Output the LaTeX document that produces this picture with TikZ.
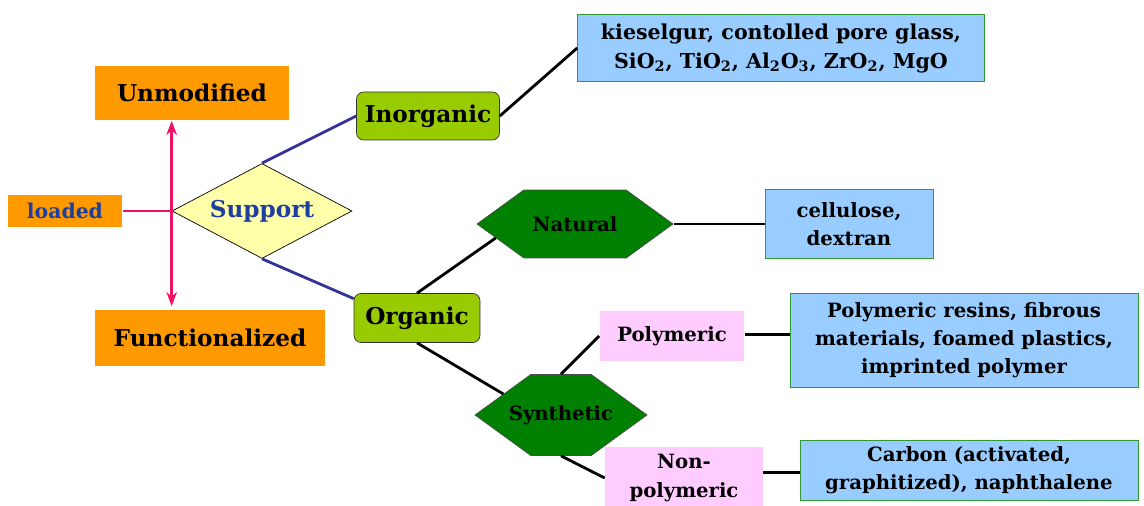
\documentclass[tikz,border=0pt]{standalone}
\usepackage{fontspec}
\setmainfont{DejaVu Serif}
\usetikzlibrary{shapes.geometric,shapes.symbols,arrows.meta}

\definecolor{boxorange}{HTML}{FF9900}
\definecolor{leafblue}{HTML}{99CCFF}
\definecolor{leafedge}{HTML}{339933}
\definecolor{limegreen}{HTML}{99CC00}
\definecolor{hexgreen}{HTML}{008000}
\definecolor{palepink}{HTML}{FFCCFF}
\definecolor{paleyellow}{HTML}{FFFFAA}
\definecolor{linkblue}{HTML}{333399}
\definecolor{arrowpink}{HTML}{EE1166}
\definecolor{textblue}{HTML}{1F3FA0}

\newcommand\labelbig{\fontsize{13.2}{15}\selectfont}
\newcommand\labelmed{\fontsize{11.2}{16}\selectfont}

\tikzset{
	orangebox/.style={fill=boxorange, font=\bfseries\labelbig, inner sep=2pt},
	groupbox/.style={draw=black!80, fill=limegreen, rounded corners=4pt, font=\bfseries\labelbig},
	hexbox/.style={shape=signal, signal to=east and west, signal pointer angle=72, draw=black!70, fill=hexgreen, font=\bfseries\labelmed, inner sep=1pt},
	pinkbox/.style={fill=palepink, font=\bfseries\labelmed, align=center},
	leafbox/.style={draw=leafedge, fill=leafblue, font=\bfseries\labelmed, align=center},
	treeline/.style={line width=1.6pt, black},
	linkline/.style={line width=1.6pt, linkblue},
	pinkline/.style={line width=1.4pt, arrowpink}
}

\begin{document}
\begin{tikzpicture}[x=0.02cm, y=-0.02cm]
\useasboundingbox (0,0) rectangle (1144,506);

% left side
\node[orangebox, minimum width=3.9cm, minimum height=1.1cm] (unmod) at (192,93) {Unmodified};
\node[orangebox, minimum width=4.6cm, minimum height=1.12cm] (func) at (210,338) {Functionalized};
\node[orangebox, minimum width=2.3cm, minimum height=0.64cm, font=\bfseries\fontsize{11.6}{14}\selectfont, text=textblue] (loaded) at (65,211) {loaded};
\node[diamond, draw, fill=paleyellow, aspect=1.9, minimum width=3.6cm, minimum height=1.9cm, inner sep=0pt, text=textblue, font=\bfseries\labelbig] (support) at (262,211) {Support};

% groups
\node[groupbox, minimum width=2.86cm, minimum height=0.96cm] (inorg) at (428,116) {Inorganic};
\node[groupbox, minimum width=2.52cm, minimum height=0.98cm] (org) at (417,318) {Organic};
\node[hexbox, minimum width=3.92cm, minimum height=1.36cm] (natural) at (575,224) {Natural};
\node[hexbox, minimum height=1.62cm, inner xsep=-12.5pt] (synth) at (561,415) {Synthetic};
\node[pinkbox, minimum width=2.9cm, minimum height=1.02cm] (polym) at (672,336) {Polymeric};
\node[pinkbox, minimum width=3.16cm, minimum height=1.24cm] (nonpolym) at (684,478) {Non-\\polymeric};

% leaves
\node[leafbox, minimum width=8.14cm, minimum height=1.34cm, font=\bfseries\fontsize{11.7}{16.5}\selectfont] (kiesel) at (781,48)
	{kieselgur, contolled pore glass,\\SiO\textsubscript{2}, TiO\textsubscript{2}, Al\textsubscript{2}O\textsubscript{3}, ZrO\textsubscript{2}, MgO};
\node[leafbox, minimum width=3.36cm, minimum height=1.38cm] (cellu) at (849,224) {cellulose,\\dextran};
\node[leafbox, minimum width=6.96cm, minimum height=1.88cm] (resins) at (964,340)
	{Polymeric resins, fibrous\\materials, foamed plastics,\\imprinted polymer};
\node[leafbox, minimum width=6.76cm, minimum height=1.2cm] (carbon) at (969,470)
	{Carbon (activated,\\graphitized), naphthalene};

\draw[pinkline] (loaded.east) -- (support.west);
\draw[pinkline, -{Stealth[length=8pt, width=6pt]}] (support.west) -- (support.west |- unmod.south);
\draw[pinkline, -{Stealth[length=8pt, width=6pt]}, shorten >=2pt] (support.west) -- (support.west |- func.north);

\draw[linkline] (support.north) -- (inorg.west);
\draw[linkline] (support.south) -- (org.163);

\draw[treeline] (inorg.east) -- (kiesel.west);
\draw[treeline] (org.north) -- (natural.190);
\draw[treeline] (natural.east) -- (cellu.west);
\draw[treeline] (org.south) -- (synth.160);
\draw[treeline] (synth.north) -- (polym.west);
\draw[treeline] (synth.south) -- (nonpolym.west);
\draw[treeline] ([yshift=1pt]polym.east) -- ([yshift=1pt]polym.east -| resins.west);
\draw[treeline] ([yshift=3pt]nonpolym.east) -- ([yshift=3pt]nonpolym.east -| carbon.west);
\end{tikzpicture}
\end{document}
